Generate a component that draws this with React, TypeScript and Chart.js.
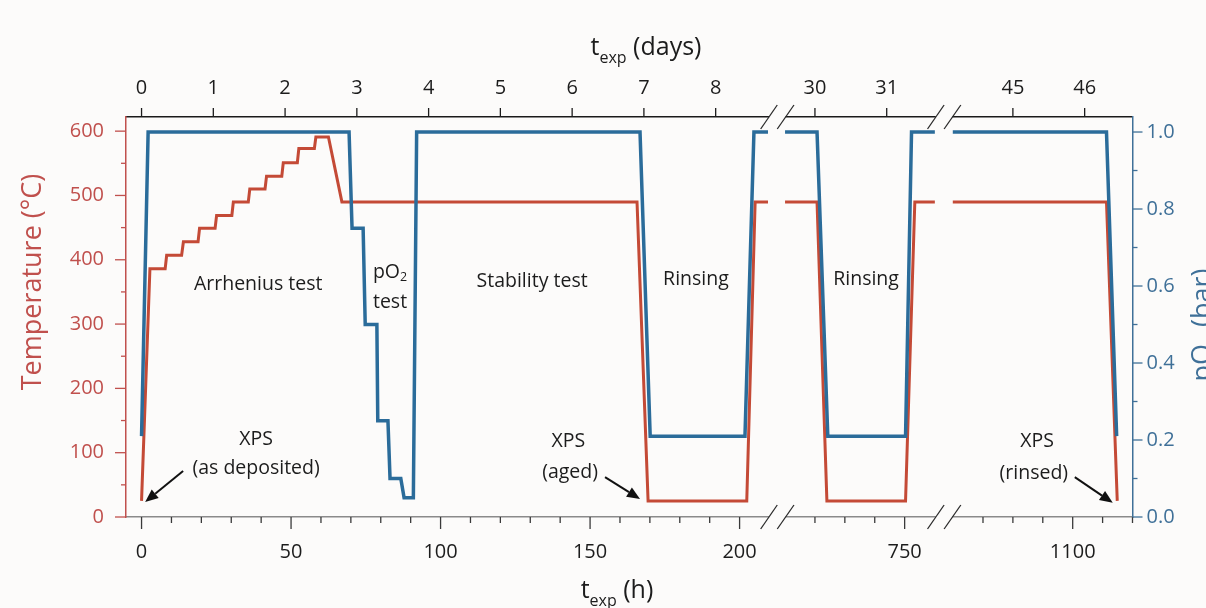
import React, { useEffect, useRef } from 'react';
import { Chart, registerables } from 'chart.js';

Chart.register(...registerables);

const W = 1206;
const H = 608;
const FONT = '"Open Sans", "DejaVu Sans", sans-serif';
const BG = '#fcfbfa';
const RED = '#c44a36';
const BLUE = '#2b6c9a';
const RED_TXT = '#c0504d';
const BLUE_TXT = '#3f7098';
const INK = '#1c1c1c';

// Broken time axis: visible hour range of each of the three panels
const segMin = [-5.2, 707.3, 1056.9];
const segMax = [212.5, 763.1, 1120];

// Axis ticks
const hourMajorTicks = [0, 50, 100, 150, 200, 750, 1100];
const hourMinorTicks = [10, 20, 30, 40, 60, 70, 80, 90, 110, 120, 130, 140, 160, 170, 180, 190, 720, 730, 740, 1070, 1080, 1090, 1110, 1120];
const dayTicks = [0, 1, 2, 3, 4, 5, 6, 7, 8, 30, 31, 45, 46];
const tempMajorTicks = [0, 100, 200, 300, 400, 500, 600];
const tempMinorTicks = [50, 150, 250, 350, 450, 550];
const pO2MajorTicks = [0, 0.2, 0.4, 0.6, 0.8, 1.0];
const pO2MinorTicks = [0.1, 0.3, 0.5, 0.7, 0.9];

// Temperature (°C) vs exposure time (h), one list per axis panel
const tempHoursA = [0, 2.8, 7.9, 8.4, 13.4, 14.0, 18.9, 19.4, 24.6, 25.1, 30.2, 30.7, 35.7, 36.2, 41.3, 41.8, 46.9, 47.4, 52.1, 52.6, 57.8, 58.3, 62.5, 67.0, 165.7, 169.4, 202.4, 205.2, 209.5];
const tempValuesA = [25, 386, 386, 407, 407, 428, 428, 449, 449, 469, 469, 490, 490, 510, 510, 530, 530, 551, 551, 573, 573, 591, 591, 490, 490, 25, 25, 490, 490];
const tempHoursB = [710.0, 720.7, 724.0, 750.3, 753.4, 760.1];
const tempValuesB = [490, 490, 25, 25, 490, 490];
const tempHoursC = [1059.9, 1111.3, 1114.9];
const tempValuesC = [490, 490, 25];

// pO2 (bar) vs exposure time (h)
const pO2HoursA = [0, 2.2, 69.4, 70.4, 74.1, 74.8, 78.7, 79.0, 82.4, 83.1, 86.7, 87.8, 90.9, 92.0, 166.7, 170.1, 201.8, 204.8, 209.5];
const pO2ValuesA = [0.21, 1.0, 1.0, 0.75, 0.75, 0.5, 0.5, 0.25, 0.25, 0.1, 0.1, 0.05, 0.05, 1.0, 1.0, 0.21, 0.21, 1.0, 1.0];
const pO2HoursB = [710.0, 720.7, 724.3, 750.3, 752.3, 760.1];
const pO2ValuesB = [1, 1, 0.21, 0.21, 1, 1];
const pO2HoursC = [1059.9, 1111.3, 1114.7];
const pO2ValuesC = [1, 1, 0.21];

// Annotations (panel index, hour, temperature)
const noteTexts = ['Arrhenius test', 'Stability test', 'Rinsing', 'Rinsing', 'XPS', '(as deposited)', 'XPS', '(aged)', 'XPS', '(rinsed)'];
const noteSegs = [0, 0, 0, 1, 0, 0, 0, 0, 2, 2];
const noteHours = [39.0, 130.6, 185.4, 737.1, 38.3, 38.3, 142.7, 143.3, 1088.1, 1087.0];
const noteTemps = [362, 367, 370, 370, 121, 75, 117, 69, 117, 68];
const pO2NoteHour = 83.1;
const pO2NoteTemps = [381, 334];

const arrowSegs = [0, 0, 2];
const arrowTailHours = [13.9, 155.0, 1100.7];
const arrowTailTemps = [71.5, 62, 62];
const arrowTipHours = [1.2, 166.7, 1113.4];
const arrowTipTemps = [23.3, 28, 22];

type Part = [string, boolean];

function drawRich(ctx: CanvasRenderingContext2D, parts: Part[], x: number, y: number, size: number, color: string) {
  const subSize = size * 0.64;
  const widths = parts.map(([t, sub]) => {
    ctx.font = `${sub ? subSize : size}px ${FONT}`;
    return ctx.measureText(t).width;
  });
  const total = widths.reduce((a, b) => a + b, 0);
  let cx = x - total / 2;
  ctx.fillStyle = color;
  ctx.textAlign = 'left';
  parts.forEach(([t, sub], i) => {
    ctx.font = `${sub ? subSize : size}px ${FONT}`;
    ctx.fillText(t, cx, sub ? y + size * 0.3 : y);
    cx += widths[i];
  });
}

function seg(hours: number[], vals: number[]) {
  return hours.map((h, i) => ({ x: h, y: vals[i] }));
}

const bgPlugin = {
  id: 'bgFill',
  beforeDraw(chart: any) {
    const ctx = chart.ctx;
    ctx.save();
    ctx.fillStyle = BG;
    ctx.fillRect(0, 0, chart.width, chart.height);
    ctx.restore();
  },
};

const decorPlugin = {
  id: 'decor',
  afterDraw(chart: any) {
    const ctx: CanvasRenderingContext2D = chart.ctx;
    const { top, bottom, left, right } = chart.chartArea;
    ctx.save();
    const line = (x1: number, y1: number, x2: number, y2: number, color: string, w: number) => {
      ctx.strokeStyle = color;
      ctx.lineWidth = w;
      ctx.beginPath();
      ctx.moveTo(x1, y1);
      ctx.lineTo(x2, y2);
      ctx.stroke();
    };
    // x ticks
    segMin.forEach((mn, i) => {
      const mx = segMax[i];
      const xs = chart.scales['x' + i];
      hourMajorTicks.filter((v) => v >= mn && v <= mx).forEach((v) => {
        const px = xs.getPixelForValue(v);
        line(px, bottom, px, bottom + 12, '#3a3a3a', 1.3);
      });
      hourMinorTicks.filter((v) => v >= mn && v <= mx).forEach((v) => {
        const px = xs.getPixelForValue(v);
        line(px, bottom, px, bottom + 6, '#3a3a3a', 1.3);
      });
      const ts = chart.scales['t' + i];
      dayTicks.map((d) => d * 24).filter((v) => v >= mn && v <= mx).forEach((v) => {
        const px = ts.getPixelForValue(v);
        line(px, top, px, top - 9, INK, 1.3);
      });
    });
    // y ticks
    const yT = chart.scales.yT;
    tempMajorTicks.forEach((v) => {
      const py = yT.getPixelForValue(v);
      line(left, py, left - 11, py, RED_TXT, 1.3);
    });
    tempMinorTicks.forEach((v) => {
      const py = yT.getPixelForValue(v);
      line(left, py, left - 5, py, RED_TXT, 1.3);
    });
    const yP = chart.scales.yP;
    pO2MajorTicks.forEach((v) => {
      const py = yP.getPixelForValue(v);
      line(right, py, right + 10, py, BLUE_TXT, 1.3);
    });
    pO2MinorTicks.forEach((v) => {
      const py = yP.getPixelForValue(v);
      line(right, py, right + 5, py, BLUE_TXT, 1.3);
    });
    // axis breaks
    for (let i = 0; i < segMin.length - 1; i++) {
      const bx = chart.scales['x' + i].right;
      [top, bottom].forEach((y) => {
        ctx.fillStyle = BG;
        ctx.fillRect(bx - 8, y - 2.5, 16.5, 5);
        line(bx - 16.3, y + 12, bx + 0.3, y - 12, '#2a2a2a', 1.3);
        line(bx + 0.3, y + 12, bx + 17, y - 12, '#2a2a2a', 1.3);
      });
    }
    // axis titles
    ctx.textBaseline = 'alphabetic';
    drawRich(ctx, [['t', false], ['exp', true], [' (days)', false]], 646, 55, 25, INK);
    drawRich(ctx, [['t', false], ['exp', true], [' (h)', false]], 617, 598, 25, INK);
    ctx.save();
    ctx.translate(41, 282);
    ctx.rotate(-Math.PI / 2);
    drawRich(ctx, [['Temperature (°C)', false]], 0, 0, 27, RED_TXT);
    ctx.restore();
    ctx.save();
    ctx.translate(1211, 325);
    ctx.rotate(-Math.PI / 2);
    drawRich(ctx, [['pO', false], ['2', true], [' (bar)', false]], 0, 0, 27, BLUE_TXT);
    ctx.restore();
    // annotations
    ctx.textBaseline = 'middle';
    noteTexts.forEach((t, i) => {
      const px = chart.scales['x' + noteSegs[i]].getPixelForValue(noteHours[i]);
      const py = yT.getPixelForValue(noteTemps[i]);
      drawRich(ctx, [[t, false]], px, py, 19.5, INK);
    });
    {
      const px = chart.scales.x0.getPixelForValue(pO2NoteHour);
      drawRich(ctx, [['pO', false], ['2', true]], px, yT.getPixelForValue(pO2NoteTemps[0]), 19.5, INK);
      drawRich(ctx, [['test', false]], px, yT.getPixelForValue(pO2NoteTemps[1]), 19.5, INK);
    }
    // arrows
    arrowSegs.forEach((s, i) => {
      const xs = chart.scales['x' + s];
      const x1 = xs.getPixelForValue(arrowTailHours[i]);
      const y1 = yT.getPixelForValue(arrowTailTemps[i]);
      const x2 = xs.getPixelForValue(arrowTipHours[i]);
      const y2 = yT.getPixelForValue(arrowTipTemps[i]);
      const ang = Math.atan2(y2 - y1, x2 - x1);
      const hl = 13;
      const hw = 5.5;
      const bxp = x2 - hl * Math.cos(ang);
      const byp = y2 - hl * Math.sin(ang);
      line(x1, y1, bxp, byp, '#111', 2);
      ctx.fillStyle = '#111';
      ctx.beginPath();
      ctx.moveTo(x2, y2);
      ctx.lineTo(bxp + hw * Math.sin(ang), byp - hw * Math.cos(ang));
      ctx.lineTo(bxp - hw * Math.sin(ang), byp + hw * Math.cos(ang));
      ctx.closePath();
      ctx.fill();
    });
    ctx.restore();
  },
};

export default function App() {
  const ref = useRef<HTMLCanvasElement>(null);
  useEffect(() => {
    if (!ref.current) return;
    const scales: any = {};
    const xOpts = (mn: number, mx: number, pos: string) => ({
      type: 'linear',
      position: pos,
      stack: pos + 'Axis',
      stackWeight: mx - mn,
      min: mn,
      max: mx,
      grid: { display: false, drawTicks: false },
    });
    segMin.forEach((mn, i) => {
      const mx = segMax[i];
      scales['x' + i] = {
        ...xOpts(mn, mx, 'bottom'),
        border: { display: true, color: '#8a8a8a', width: 1.5 },
        afterBuildTicks: (s: any) => {
          s.ticks = hourMajorTicks.filter((v) => v >= mn && v <= mx).map((v) => ({ value: v }));
        },
        afterFit: (s: any) => {
          s.height = 91;
        },
        ticks: {
          autoSkip: false,
          maxRotation: 0,
          minRotation: 0,
          padding: 23,
          color: INK,
          font: { family: FONT, size: 20 },
          callback: (v: any) => String(v),
        },
      };
    });
    // top boxes are laid out in reverse insertion order, so add them last-to-first
    for (let i = segMin.length - 1; i >= 0; i--) {
      const mn = segMin[i];
      const mx = segMax[i];
      scales['t' + i] = {
        ...xOpts(mn, mx, 'top'),
        border: { display: true, color: '#1a1a1a', width: 1.5 },
        afterBuildTicks: (s: any) => {
          s.ticks = dayTicks.map((d) => d * 24).filter((v) => v >= mn && v <= mx).map((v) => ({ value: v }));
        },
        afterFit: (s: any) => {
          s.height = 117;
        },
        ticks: {
          autoSkip: false,
          maxRotation: 0,
          minRotation: 0,
          padding: 17,
          color: INK,
          font: { family: FONT, size: 20 },
          callback: (v: any) => String(Math.round(Number(v) / 24)),
        },
      };
    }
    scales.yT = {
      type: 'linear',
      position: 'left',
      min: 0,
      max: 622,
      grid: { display: false, drawTicks: false },
      border: { display: true, color: RED_TXT, width: 1.5 },
      afterBuildTicks: (s: any) => {
        s.ticks = tempMajorTicks.map((v) => ({ value: v }));
      },
      afterFit: (s: any) => {
        s.width = 126;
      },
      ticks: { padding: 22, color: RED_TXT, font: { family: FONT, size: 20 }, callback: (v: any) => String(v) },
    };
    scales.yP = {
      type: 'linear',
      position: 'right',
      min: 0,
      max: 1.039,
      grid: { display: false, drawTicks: false },
      border: { display: true, color: BLUE_TXT, width: 1.5 },
      afterBuildTicks: (s: any) => {
        s.ticks = pO2MajorTicks.map((v) => ({ value: v }));
      },
      afterFit: (s: any) => {
        s.width = W - 1132.5;
      },
      ticks: { padding: 14, color: BLUE_TXT, font: { family: FONT, size: 20 }, callback: (v: any) => Number(v).toFixed(1) },
    };

    const common = { pointRadius: 0, fill: false, tension: 0, borderJoinStyle: 'miter' as const };
    const chart = new Chart(ref.current, {
      type: 'line',
      data: {
        datasets: [
          { ...common, data: seg(pO2HoursA, pO2ValuesA), xAxisID: 'x0', yAxisID: 'yP', borderColor: BLUE, borderWidth: 3.5 },
          { ...common, data: seg(pO2HoursB, pO2ValuesB), xAxisID: 'x1', yAxisID: 'yP', borderColor: BLUE, borderWidth: 3.5 },
          { ...common, data: seg(pO2HoursC, pO2ValuesC), xAxisID: 'x2', yAxisID: 'yP', borderColor: BLUE, borderWidth: 3.5 },
          { ...common, data: seg(tempHoursA, tempValuesA), xAxisID: 'x0', yAxisID: 'yT', borderColor: RED, borderWidth: 3 },
          { ...common, data: seg(tempHoursB, tempValuesB), xAxisID: 'x1', yAxisID: 'yT', borderColor: RED, borderWidth: 3 },
          { ...common, data: seg(tempHoursC, tempValuesC), xAxisID: 'x2', yAxisID: 'yT', borderColor: RED, borderWidth: 3 },
        ] as any,
      },
      options: {
        responsive: false,
        maintainAspectRatio: false,
        animation: false,
        events: [],
        layout: { padding: 0 },
        plugins: { legend: { display: false }, tooltip: { enabled: false } },
        scales,
      } as any,
      plugins: [bgPlugin, decorPlugin],
    });
    return () => chart.destroy();
  }, []);

  return (
    <div style={{ position: 'fixed', left: 0, top: 0, width: W, height: H, background: BG }}>
      <canvas ref={ref} width={W} height={H} style={{ display: 'block', width: W, height: H }} />
    </div>
  );
}
